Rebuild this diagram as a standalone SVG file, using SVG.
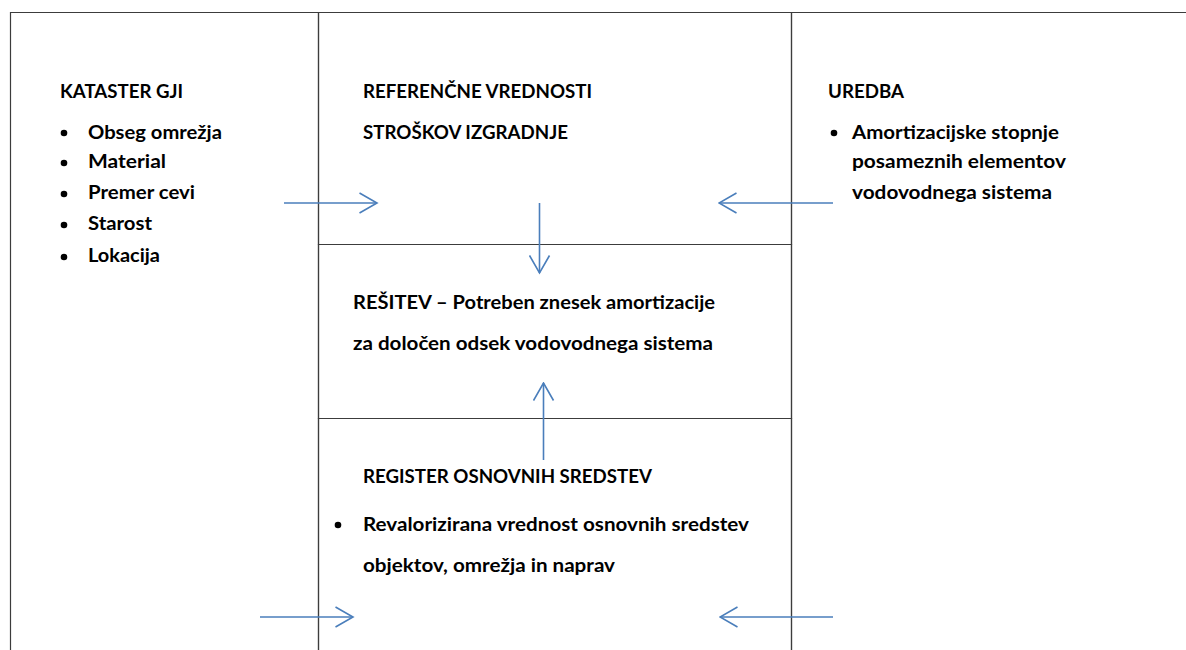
<svg xmlns="http://www.w3.org/2000/svg" width="1186" height="650" viewBox="0 0 1186 650">
  <style>
    .cell { fill: none; stroke: #3c3c3c; stroke-width: 1.2; }
    .t { font-family: Lato, "Open Sans", "Liberation Sans", sans-serif; font-weight: bold; font-size: 18px; fill: #000; }
    .dot { fill: #000; }
    .flow { stroke: #4a7ebb; stroke-width: 1.6; fill: none; marker-end: url(#head); }
  </style>
  <defs>
    <marker id="head" viewBox="0 0 20 22" refX="18.5" refY="11" markerWidth="20" markerHeight="22" markerUnits="userSpaceOnUse" orient="auto">
      <path d="M1,1 L18.5,11 L1,21" fill="none" stroke="#4a7ebb" stroke-width="1.6"/>
    </marker>
  </defs>
  <rect width="1186" height="650" fill="#fff"/>

  <!-- Left column: cadastre data -->
  <g id="kataster">
    <path class="cell" d="M10.5,650 V12.5 H318.5 V650"/>
    <text class="t" x="60" y="98" textLength="123" lengthAdjust="spacingAndGlyphs">KATASTER GJI</text>
    <circle class="dot" cx="64" cy="133" r="3.3"/>
    <text class="t" x="88" y="139" textLength="134" lengthAdjust="spacingAndGlyphs">Obseg omrežja</text>
    <circle class="dot" cx="64" cy="163" r="3.3"/>
    <text class="t" x="88" y="168" textLength="78" lengthAdjust="spacingAndGlyphs">Material</text>
    <circle class="dot" cx="64" cy="194" r="3.3"/>
    <text class="t" x="88" y="199" textLength="107" lengthAdjust="spacingAndGlyphs">Premer cevi</text>
    <circle class="dot" cx="64" cy="225" r="3.3"/>
    <text class="t" x="88" y="230" textLength="64" lengthAdjust="spacingAndGlyphs">Starost</text>
    <circle class="dot" cx="64" cy="257" r="3.3"/>
    <text class="t" x="88" y="262" textLength="72" lengthAdjust="spacingAndGlyphs">Lokacija</text>
  </g>

  <!-- Top middle: reference construction costs -->
  <g id="referencne">
    <path class="cell" d="M318.5,12.5 H791.5 V244.5 H318.5 Z"/>
    <text class="t" x="363" y="98" textLength="229" lengthAdjust="spacingAndGlyphs">REFERENČNE VREDNOSTI</text>
    <text class="t" x="363" y="139" textLength="205" lengthAdjust="spacingAndGlyphs">STROŠKOV IZGRADNJE</text>
  </g>

  <!-- Right column: regulation -->
  <g id="uredba">
    <path class="cell" d="M791.5,12.5 H1186 M791.5,12.5 V650"/>
    <text class="t" x="828" y="98" textLength="76" lengthAdjust="spacingAndGlyphs">UREDBA</text>
    <circle class="dot" cx="834" cy="133" r="3.3"/>
    <text class="t" x="852" y="139" textLength="207" lengthAdjust="spacingAndGlyphs">Amortizacijske stopnje</text>
    <text class="t" x="852" y="168" textLength="214" lengthAdjust="spacingAndGlyphs">posameznih elementov</text>
    <text class="t" x="852" y="199" textLength="200" lengthAdjust="spacingAndGlyphs">vodovodnega sistema</text>
  </g>

  <!-- Centre: result -->
  <g id="resitev">
    <path class="cell" d="M318.5,244.5 H791.5 V418.5 H318.5 Z"/>
    <text class="t" x="353" y="309" textLength="362" lengthAdjust="spacingAndGlyphs">REŠITEV – Potreben znesek amortizacije</text>
    <text class="t" x="353" y="350" textLength="360" lengthAdjust="spacingAndGlyphs">za določen odsek vodovodnega sistema</text>
  </g>

  <!-- Bottom middle: fixed asset register -->
  <g id="register">
    <path class="cell" d="M318.5,650 V418.5 H791.5 V650"/>
    <text class="t" x="363" y="483" textLength="289" lengthAdjust="spacingAndGlyphs">REGISTER OSNOVNIH SREDSTEV</text>
    <circle class="dot" cx="338" cy="525" r="3.3"/>
    <text class="t" x="363" y="531" textLength="386" lengthAdjust="spacingAndGlyphs">Revalorizirana vrednost osnovnih sredstev</text>
    <text class="t" x="363" y="572" textLength="252" lengthAdjust="spacingAndGlyphs">objektov, omrežja in naprav</text>
  </g>

  <!-- Flow arrows -->
  <g id="connectors">
    <line class="flow" x1="284" y1="203" x2="377" y2="203"/>
    <line class="flow" x1="833" y1="203" x2="719" y2="203"/>
    <line class="flow" x1="539.5" y1="203" x2="539.5" y2="273"/>
    <line class="flow" x1="543.5" y1="460" x2="543.5" y2="383"/>
    <line class="flow" x1="260" y1="617" x2="353" y2="617"/>
    <line class="flow" x1="833" y1="617" x2="720" y2="617"/>
  </g>
</svg>
